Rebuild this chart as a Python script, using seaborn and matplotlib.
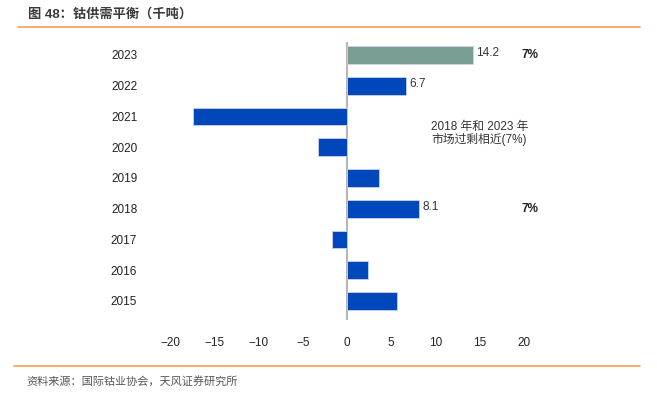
import pandas as pd
import matplotlib.pyplot as plt
import seaborn as sns

years = ['2023', '2022', '2021', '2020', '2019', '2018', '2017', '2016', '2015']
balance = [14.2, 6.7, -17.4, -3.3, 3.6, 8.1, -1.7, 2.4, 5.6]
labelled = {'2023': '14.2', '2022': '6.7', '2018': '8.1'}
surplus_pct = {'2023': '7%', '2018': '7%'}
x_ticks = [-20, -15, -10, -5, 0, 5, 10, 15, 20]

sns.set_theme(style='white')
plt.rcParams['font.family'] = ['Liberation Sans', 'Noto Sans CJK SC', 'DejaVu Sans']
plt.rcParams['axes.unicode_minus'] = True

df = pd.DataFrame({'year': years, 'balance': balance})
palette = {y: ('#7a9e93' if y == '2023' else '#0047bb') for y in years}

fig = plt.figure(figsize=(6.57, 4.03), dpi=100)
ax = fig.add_axes([165 / 657, 1 - 320 / 403, 365 / 657, 278 / 403])

sns.barplot(data=df, x='balance', y='year', hue='year', palette=palette,
            order=years, orient='h', width=0.58, legend=False, saturation=1,
            edgecolor='#c8d4e8', linewidth=0.6, ax=ax)

ax.set_xlim(-20.6, 20.7)
ax.set_ylim(len(years) - 1 + 0.62, -0.42)
ax.axvline(0, color='#a8a8a8', lw=1.2, zorder=0)
for s in ax.spines.values():
    s.set_visible(False)
ax.set_xticks(x_ticks)
ax.set_xticklabels([f'\u2212{abs(t)}' if t < 0 else str(t) for t in x_ticks])
ax.tick_params(axis='x', length=0, pad=12, labelsize=8.5, labelcolor='#222222')
ax.tick_params(axis='y', length=0, pad=20, labelsize=8.5, labelcolor='#222222')
ax.set_xlabel('')
ax.set_ylabel('')

for i, y in enumerate(years):
    if y in labelled:
        ax.text(balance[i] + 0.4, i - 0.05, labelled[y], va='center', ha='left',
                fontsize=8.5, color='#333333')
    if y in surplus_pct:
        ax.text(20.7, i, surplus_pct[y], va='center', ha='center',
                fontsize=8.5, fontweight='bold', color='#222222')

ax.text(15, 2.55, '2018 年和 2023 年\n市场过剩相近(7%)', ha='center', va='center',
        fontsize=8.5, color='#333333', linespacing=1.0)

fig.text(28 / 657, 1 - 14 / 403, '图 48：钴供需平衡（千吨）', ha='left', va='center',
         fontsize=9.5, fontweight='bold', color='#3a3a3a')
fig.add_artist(plt.Line2D([18 / 657, 640 / 657], [1 - 27 / 403] * 2, color='#f0a060', lw=1.2))
fig.add_artist(plt.Line2D([14 / 657, 640 / 657], [1 - 366 / 403] * 2, color='#f5a050', lw=1.2))
fig.text(26 / 657, 1 - 381 / 403, '资料来源：国际钴业协会，天风证券研究所', ha='left', va='center',
         fontsize=8, color='#555555')

fig.savefig('out.png', dpi=100)
